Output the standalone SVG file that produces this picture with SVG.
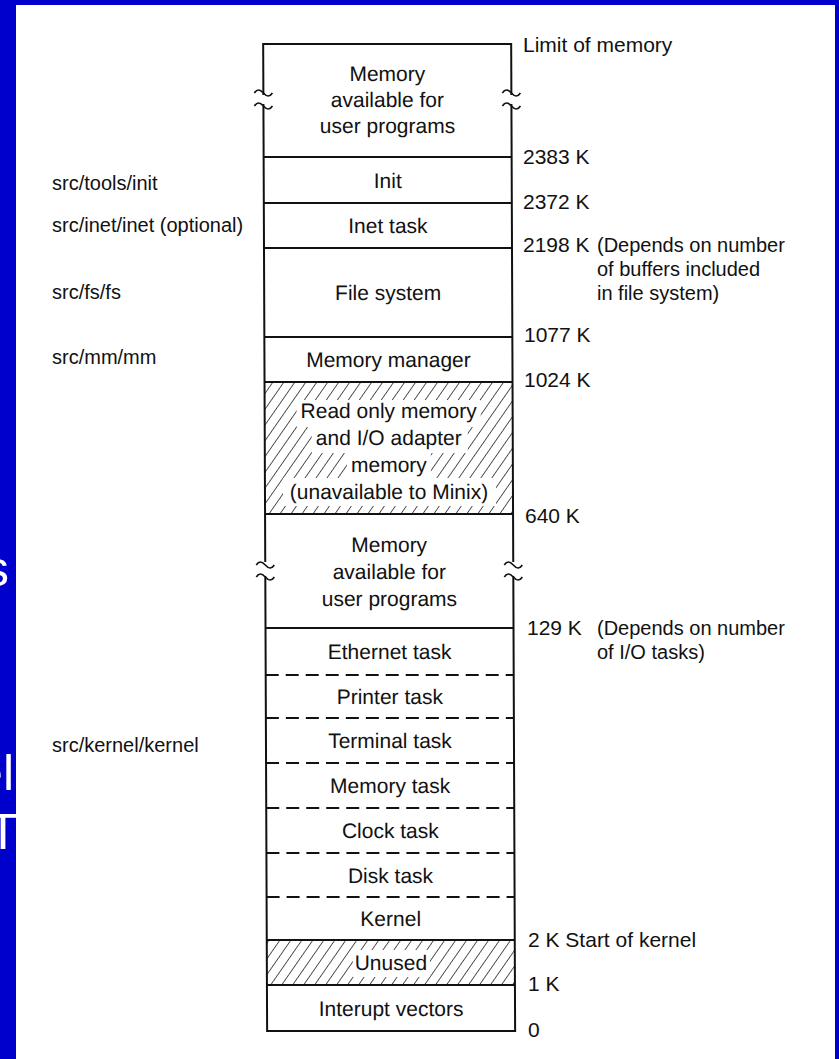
<svg xmlns="http://www.w3.org/2000/svg" width="839" height="1059" viewBox="0 0 839 1059">
<defs>
<style>
.t{font-family:"Liberation Sans",Arial,Helvetica,sans-serif;font-size:21px;fill:#111;}
.c{text-anchor:middle;}
.l{font-size:20px;}
.n{font-size:20px;}
.edge{stroke:#111;stroke-width:2;fill:none;}
.sep{stroke:#111;stroke-width:2;}
.dash{stroke:#111;stroke-width:2;stroke-dasharray:13 7;}
.cell{fill:#fff;stroke:none;}
.hat{fill:url(#hatch);stroke:none;}
.w{font-family:"Liberation Sans",Arial,sans-serif;font-size:50px;fill:#fff;}
</style>
<pattern id="hatch" patternUnits="userSpaceOnUse" width="9" height="9" patternTransform="rotate(35)">
<rect width="9" height="9" fill="#fff"/>
<line x1="0" y1="0" x2="0" y2="9" stroke="#111" stroke-width="1.4"/>
</pattern>
<path id="sq" d="M-9,0 c2.5,-4 5.5,-4 9,0 s6.5,4 9,0" fill="none" stroke="#111" stroke-width="1.6"/>
</defs>
<rect x="0" y="0" width="839" height="1059" fill="#0000CC"/>
<text class="w" x="9" y="586" text-anchor="end">s</text>
<text class="w" x="14" y="790" text-anchor="end">el</text>
<text class="w" x="3" y="849" text-anchor="middle">T</text>
<rect x="16" y="5" width="819" height="1060" fill="#fff"/>

<g id="memory-map" transform="matrix(1 0 0.004 1 0 0)">
  <g id="user-mem-high"><rect class="cell" x="263" y="44" width="248" height="113"/>
    <text class="t c" x="387" y="81">Memory</text>
    <text class="t c" x="387" y="107">available for</text>
    <text class="t c" x="387" y="133">user programs</text></g>
  <g id="init"><rect class="cell" x="263" y="157" width="248" height="46"/><text class="t c" x="387" y="188">Init</text></g>
  <g id="inet"><rect class="cell" x="263" y="203" width="248" height="45"/><text class="t c" x="387" y="233">Inet task</text></g>
  <g id="fs"><rect class="cell" x="263" y="248" width="248" height="89"/><text class="t c" x="387" y="300">File system</text></g>
  <g id="mm"><rect class="cell" x="263" y="337" width="248" height="45"/><text class="t c" x="387" y="367">Memory manager</text></g>
  <g id="rom"><rect class="hat" x="263" y="382" width="248" height="132"/>
    <rect class="cell" x="295" y="400" width="184" height="27"/>
    <rect class="cell" x="310" y="426" width="156" height="27"/>
    <rect class="cell" x="345" y="452" width="84" height="27"/>
    <rect class="cell" x="281" y="478" width="213" height="28"/>
    <text class="t c" x="387" y="418">Read only memory</text>
    <text class="t c" x="387" y="445">and I/O adapter</text>
    <text class="t c" x="387" y="472">memory</text>
    <text class="t c" x="387" y="499">(unavailable to Minix)</text></g>
  <g id="user-mem-low"><rect class="cell" x="263" y="514" width="248" height="114"/>
    <text class="t c" x="387" y="552">Memory</text>
    <text class="t c" x="387" y="579">available for</text>
    <text class="t c" x="387" y="606">user programs</text></g>
  <g id="ethernet"><text class="t c" x="387" y="659">Ethernet task</text></g>
  <g id="printer"><text class="t c" x="387" y="704">Printer task</text></g>
  <g id="terminal"><text class="t c" x="387" y="748">Terminal task</text></g>
  <g id="memtask"><text class="t c" x="387" y="793">Memory task</text></g>
  <g id="clock"><text class="t c" x="387" y="838">Clock task</text></g>
  <g id="disk"><text class="t c" x="387" y="883">Disk task</text></g>
  <g id="kernel"><text class="t c" x="387" y="926">Kernel</text></g>
  <g id="unused"><rect class="hat" x="263" y="940" width="248" height="45"/>
    <rect class="cell" x="349" y="950" width="77" height="27"/>
    <text class="t c" x="387" y="970">Unused</text></g>
  <g id="intvec"><text class="t c" x="387" y="1016">Interupt vectors</text></g>

  <g id="connectors">
    <path class="edge" d="M263,95 V44 H511 V95 M511,104 V562 M511,576 V1031 H263 V576 M263,562 V104"/>
    <use href="#sq" x="263" y="93"/><use href="#sq" x="263" y="106"/>
    <use href="#sq" x="511" y="93"/><use href="#sq" x="511" y="106"/>
    <use href="#sq" x="263" y="565"/><use href="#sq" x="263" y="577"/>
    <use href="#sq" x="511" y="565"/><use href="#sq" x="511" y="577"/>
    <line class="sep" x1="263" y1="157" x2="511" y2="157"/>
    <line class="sep" x1="263" y1="203" x2="511" y2="203"/>
    <line class="sep" x1="263" y1="248" x2="511" y2="248"/>
    <line class="sep" x1="263" y1="337" x2="511" y2="337"/>
    <line class="sep" x1="263" y1="382" x2="511" y2="382"/>
    <line class="sep" x1="263" y1="514" x2="511" y2="514"/>
    <line class="sep" x1="263" y1="628" x2="511" y2="628"/>
    <line class="dash" x1="263" y1="675" x2="511" y2="675"/>
    <line class="dash" x1="263" y1="718" x2="511" y2="718"/>
    <line class="dash" x1="263" y1="763" x2="511" y2="763"/>
    <line class="dash" x1="263" y1="808" x2="511" y2="808"/>
    <line class="dash" x1="263" y1="853" x2="511" y2="853"/>
    <line class="dash" x1="263" y1="897" x2="511" y2="897"/>
    <line class="sep" x1="263" y1="940" x2="511" y2="940"/>
    <line class="sep" x1="263" y1="985" x2="511" y2="985"/>
  </g>
</g>

<g id="addresses">
  <text class="t" x="523" y="52">Limit of memory</text>
  <text class="t" x="523" y="164">2383 K</text>
  <text class="t" x="523" y="209">2372 K</text>
  <text class="t" x="523" y="252">2198 K</text>
  <text class="t n" x="597" y="252">(Depends on number</text>
  <text class="t n" x="597" y="276">of buffers included</text>
  <text class="t n" x="597" y="300">in file system)</text>
  <text class="t" x="524" y="342">1077 K</text>
  <text class="t" x="524" y="387">1024 K</text>
  <text class="t" x="525" y="523">640 K</text>
  <text class="t" x="527" y="635">129 K</text>
  <text class="t n" x="597" y="635">(Depends on number</text>
  <text class="t n" x="597" y="659">of I/O tasks)</text>
  <text class="t" x="528" y="947">2 K Start of kernel</text>
  <text class="t" x="528" y="991">1 K</text>
  <text class="t" x="528" y="1037">0</text>
</g>

<g id="sources">
  <text class="t l" x="52" y="190">src/tools/init</text>
  <text class="t l" x="52" y="232">src/inet/inet (optional)</text>
  <text class="t l" x="52" y="299">src/fs/fs</text>
  <text class="t l" x="52" y="364">src/mm/mm</text>
  <text class="t l" x="52" y="752">src/kernel/kernel</text>
</g>
</svg>
